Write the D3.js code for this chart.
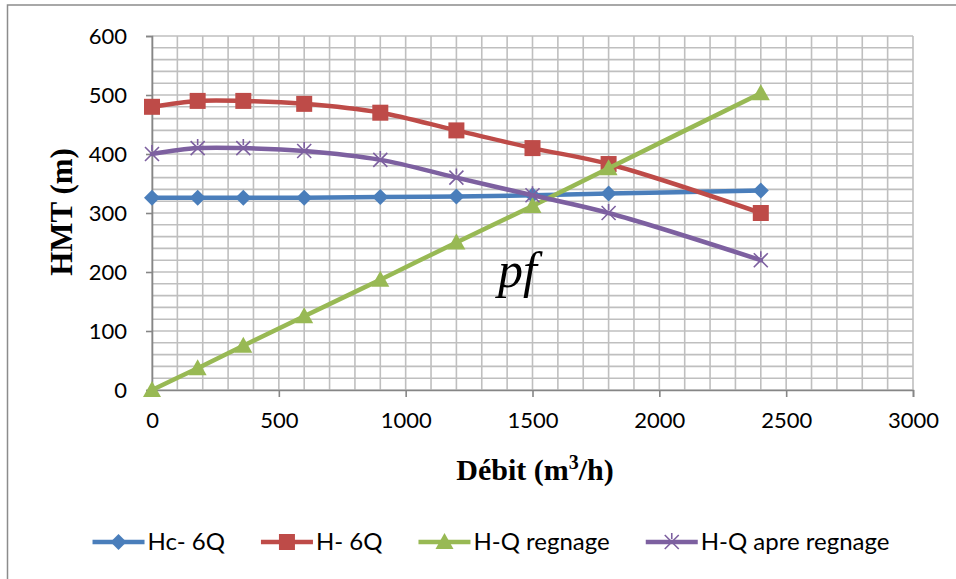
<!DOCTYPE html>
<html>
<head>
<meta charset="UTF-8">
<title>HMT - Debit</title>
<script src="https://cdn.jsdelivr.net/npm/d3@7"></script>
<style>
  body { margin: 0; background: #fff; }
  .tick text { font-family: Lato, "Open Sans", sans-serif; font-size: 22px; fill: #000; }
  .legend text { font-family: Lato, "Open Sans", sans-serif; font-size: 24px; fill: #000; }
</style>
</head>
<body>
<div class="holder"></div>
<script>
    // debit values (m3/h)
    var debit = [0, 180, 360, 600, 900, 1200, 1500, 1800, 2400];
    // HMT values (m) per series
    var hc6Q = [326, 326, 326, 326, 327, 328, 330, 333, 338];
    var h6Q = [480, 490, 490, 485, 470, 440, 410, 383, 300];
    var hqRegnage = [0, 37, 75, 125, 187, 250, 312, 376, 503];
    var hqApreRegnage = [400, 410, 410, 405, 390, 360, 330, 300, 220];

    var seriesNames = ["Hc- 6Q", "H- 6Q", "H-Q regnage", "H-Q apre regnage"];
    var seriesColors = ["#4a7ebb", "#be4b48", "#98b954", "#7d60a0"];
    var seriesMarkers = ["diamond", "square", "triangle", "star"];
    var xTicks = [0, 500, 1000, 1500, 2000, 2500, 3000];
    var yTicks = [0, 100, 200, 300, 400, 500, 600];

    var seriesValues = [hc6Q, h6Q, hqRegnage, hqApreRegnage];

    var svg = d3.select(".holder")
            .append("svg")
            .attr("width", 956)
            .attr("height", 579)
            .style("display", "block");

    // chart frame (runs past the right and bottom edges)
    svg.append("rect")
            .attr("x", 7.5).attr("y", 5)
            .attr("width", 990).attr("height", 620)
            .attr("fill", "#fff")
            .attr("stroke", "#8c8c8c")
            .attr("stroke-width", 1.5);

    var x = d3.scaleLinear().domain([0, 3000]).range([152, 913]);
    var y = d3.scaleLinear().domain([0, 600]).range([390, 36]);

    // minor + major grid
    var grid = svg.append("g").attr("stroke", "#bfbfbf").attr("stroke-width", 1.6);
    grid.selectAll("line.v")
            .data(d3.range(0, 3001, 100))
            .enter().append("line")
            .attr("x1", function(d) {return x(d);})
            .attr("x2", function(d) {return x(d);})
            .attr("y1", y(0)).attr("y2", y(600));
    grid.selectAll("line.h")
            .data(d3.range(0, 601, 20))
            .enter().append("line")
            .attr("x1", x(0)).attr("x2", x(3000))
            .attr("y1", function(d) {return y(d);})
            .attr("y2", function(d) {return y(d);});

    // axes
    var yAxis = svg.append("g")
            .attr("transform", "translate(" + x(0) + ",0)")
            .call(d3.axisLeft(y).tickValues(yTicks).tickSize(6).tickPadding(19).tickFormat(d3.format("d")));
    var xAxis = svg.append("g")
            .attr("transform", "translate(0," + y(0) + ")")
            .call(d3.axisBottom(x).tickValues(xTicks).tickSize(7).tickPadding(15).tickFormat(d3.format("d")));
    [xAxis, yAxis].forEach(function(a) {
        a.select(".domain").attr("stroke", "#868686").attr("stroke-width", 1.6);
        a.selectAll(".tick line").attr("stroke", "#868686").attr("stroke-width", 1.6);
    });

    // axis titles
    svg.append("text")
            .attr("transform", "translate(72,212) rotate(-90)")
            .attr("text-anchor", "middle")
            .style("font-family", "'Liberation Serif', 'Times New Roman', serif")
            .style("font-weight", "bold")
            .style("font-size", "31px")
            .text("HMT (m)");

    var xt = svg.append("text")
            .attr("x", 535).attr("y", 480)
            .attr("text-anchor", "middle")
            .style("font-family", "'Liberation Serif', 'Times New Roman', serif")
            .style("font-weight", "bold")
            .style("font-size", "30px");
    xt.append("tspan").text("Débit (m");
    xt.append("tspan").attr("dy", -11).style("font-size", "20px").text("3");
    xt.append("tspan").attr("dy", 11).text("/h)");

    // marker shapes
    function marker(sel, type, color) {
        if (type === "diamond") {
            sel.append("path").attr("d", "M0,-8L8,0L0,8L-8,0Z").attr("fill", color);
        } else if (type === "square") {
            sel.append("rect").attr("x", -8).attr("y", -8).attr("width", 16).attr("height", 16).attr("fill", color);
        } else if (type === "triangle") {
            sel.append("path").attr("d", "M0,-9L9,7L-9,7Z").attr("fill", color);
        } else {
            sel.append("path").attr("d", "M-7,-7L7,7M-7,7L7,-7M0,-9L0,-3")
                    .attr("stroke", color).attr("stroke-width", 1.6).attr("fill", "none");
        }
    }

    var line = d3.line()
            .x(function(d) {return x(d[0]);})
            .y(function(d) {return y(d[1]);})
            .curve(d3.curveCatmullRom.alpha(0.5));

    seriesValues.forEach(function(vals, s) {
        var pts = debit.map(function(q, i) {return [q, vals[i]];});
        svg.append("path")
                .datum(pts)
                .attr("d", line)
                .attr("fill", "none")
                .attr("stroke", seriesColors[s])
                .attr("stroke-width", 4.5)
                .attr("stroke-linejoin", "round")
                .attr("stroke-linecap", "round");
        svg.selectAll("g.m" + s)
                .data(pts)
                .enter().append("g")
                .attr("transform", function(d) {return "translate(" + x(d[0]) + "," + y(d[1]) + ")";})
                .each(function() {marker(d3.select(this), seriesMarkers[s], seriesColors[s]);});
    });

    // pf label
    svg.append("text")
            .attr("x", 498).attr("y", 287)
            .style("font-family", "'Liberation Serif', 'Times New Roman', serif")
            .style("font-style", "italic")
            .style("font-size", "50px")
            .text("pf");

    // legend
    var legend = svg.append("g").attr("class", "legend");
    var cx = 0;
    seriesNames.forEach(function(name, s) {
        var g = legend.append("g");
        g.append("line").attr("x1", 0).attr("x2", 52).attr("y1", 0).attr("y2", 0)
                .attr("stroke", seriesColors[s]).attr("stroke-width", 4.5);
        var m = g.append("g").attr("transform", "translate(26,0)");
        marker(m, seriesMarkers[s], seriesColors[s]);
        var t = g.append("text").attr("x", 55).attr("y", 8).text(name);
        var w = 55 + t.node().getComputedTextLength();
        g.attr("transform", "translate(" + cx + ",0)");
        cx += w + 36;
    });
    var total = cx - 36;
    legend.attr("transform", "translate(" + (491 - total / 2) + ",542)");
</script>
</body>
</html>
